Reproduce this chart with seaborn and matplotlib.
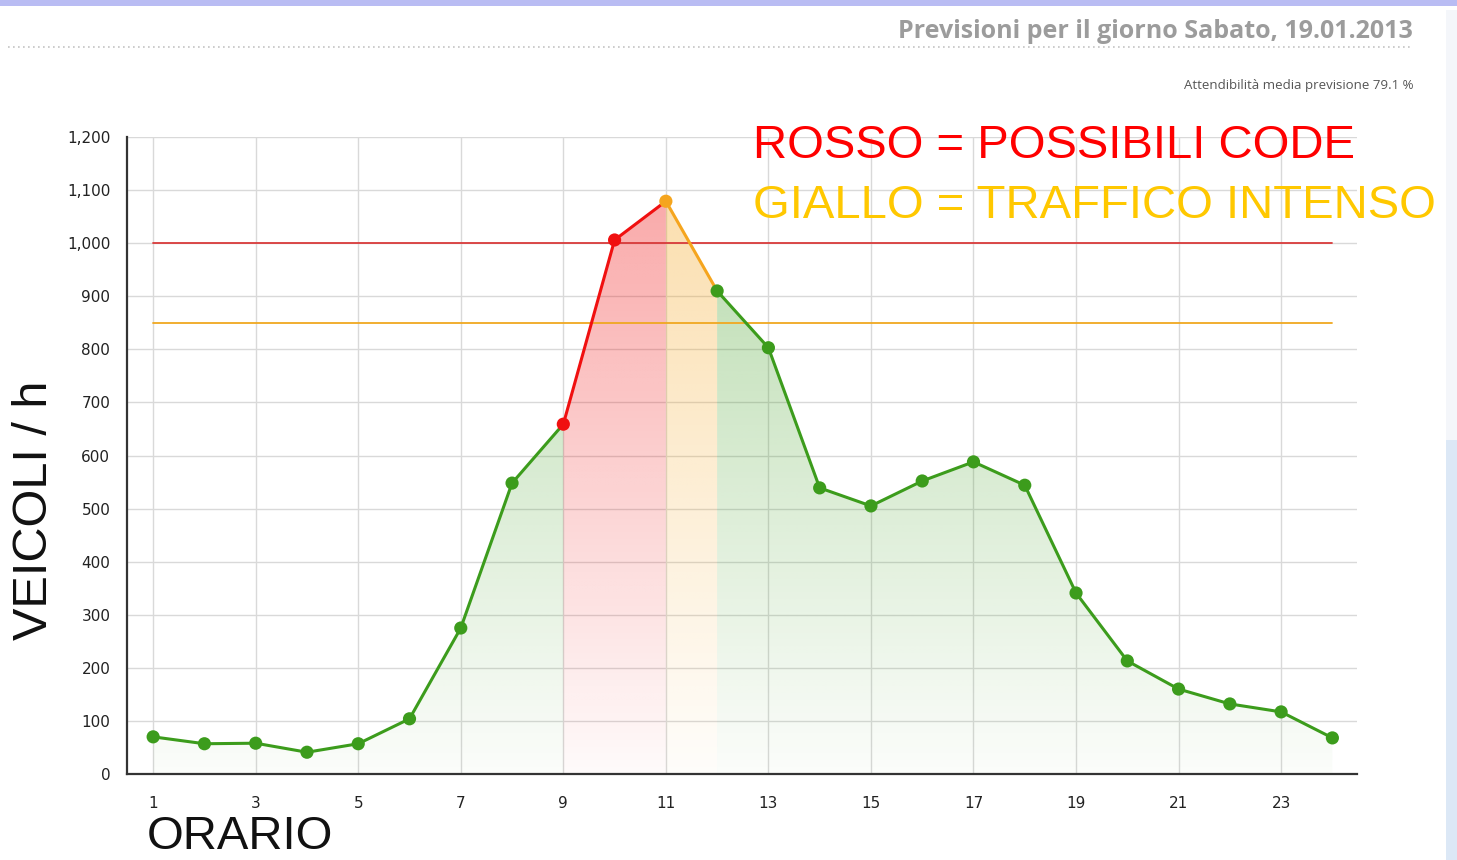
import numpy as np
import pandas as pd
import matplotlib
matplotlib.use('Agg')
import matplotlib.pyplot as plt
import seaborn as sns
from matplotlib.ticker import FuncFormatter, FixedLocator
from matplotlib.patches import Rectangle
from matplotlib.lines import Line2D
from matplotlib.colors import to_rgb

# ---------------- data ----------------
ore = list(range(1, 25))
veicoli = [70, 57, 58, 41, 57, 104, 275, 548, 659, 1006, 1079, 910,
           803, 539, 505, 552, 588, 544, 341, 213, 160, 132, 117, 68]
livello = ['verde'] * 8 + ['rosso', 'rosso', 'giallo'] + ['verde'] * 13
soglia_rossa = 1000
soglia_gialla = 850
xtick_vals = list(range(1, 24, 2))
ytick_vals = list(range(0, 1201, 100))

titolo = "Previsioni per il giorno Sabato, 19.01.2013"
sottotitolo = "Attendibilità media previsione 79.1 %"
nota_rossa = "ROSSO = POSSIBILI CODE"
nota_gialla = "GIALLO = TRAFFICO INTENSO"
label_y = "VEICOLI / h"
label_x = "ORARIO"

# ---------------- style ----------------
sns.set_theme(style='whitegrid')
plt.rcParams['font.family'] = ['DejaVu Sans']

palette = {'verde': '#3c9c1c', 'rosso': '#f01010', 'giallo': '#f5a51e'}

W, H = 1457, 860
fig = plt.figure(figsize=(W / 100, H / 100), dpi=100)
fig.patch.set_facecolor('white')

def fx(px):
    return px / W

def fy(py):
    return 1 - py / H

ax = fig.add_axes([fx(127), fy(774), fx(1357) - fx(127), fy(137) - fy(774)])
ax.set_facecolor('white')

df = pd.DataFrame({'ora': ore, 'veicoli': veicoli, 'livello': livello})

# ---------------- gradient fills (one polygon per run of equal colour) ----------------
runs = []
start = 0
for i in range(1, len(ore) - 1):
    if livello[i] != livello[start]:
        runs.append((start, i))
        start = i
runs.append((start, len(ore) - 1))

ylo, yhi = 0, 1200
for a, b in runs:
    seg = df.iloc[a:b + 1]
    col = to_rgb(palette[livello[a]])
    poly = ax.fill_between(seg['ora'], seg['veicoli'], 0, color='none', lw=0)
    n = 256
    yy = np.linspace(ylo, yhi, n)
    alpha = np.clip(0.02 + 0.34 * (yy / 1100.0), 0, 0.42)
    img = np.zeros((n, 1, 4))
    img[:, 0, :3] = col
    img[:, 0, 3] = alpha
    im = ax.imshow(img, extent=[seg['ora'].iloc[0], seg['ora'].iloc[-1], ylo, yhi],
                   origin='lower', aspect='auto', zorder=1, interpolation='bilinear')
    im.set_clip_path(poly.get_paths()[0], transform=ax.transData)

# ---------------- threshold lines ----------------
ax.plot([ore[0], ore[-1]], [soglia_rossa, soglia_rossa], color='#d83a3a', lw=1.3, zorder=2)
ax.plot([ore[0], ore[-1]], [soglia_gialla, soglia_gialla], color='#f0a820', lw=1.3, zorder=2)

# ---------------- lines ----------------
for a, b in runs:
    seg = df.iloc[a:b + 1]
    sns.lineplot(data=seg, x='ora', y='veicoli', color=palette[livello[a]],
                 lw=2.2, ax=ax, legend=False, zorder=3)

sns.scatterplot(data=df, x='ora', y='veicoli', hue='livello', palette=palette,
                s=90, edgecolor='none', legend=False, ax=ax, zorder=5)

# ---------------- axes ----------------
ax.set_xlim(0.49, 24.48)
ax.set_ylim(0, 1200)
ax.xaxis.set_major_locator(FixedLocator(xtick_vals))
ax.yaxis.set_major_locator(FixedLocator(ytick_vals))
ax.yaxis.set_major_formatter(FuncFormatter(lambda v, p: f"{int(v):,}"))
ax.set_xlabel('')
ax.set_ylabel('')
ax.grid(True, color='#d9d9d9', lw=1)
for s in ['top', 'right']:
    ax.spines[s].set_visible(False)
for s in ['left', 'bottom']:
    ax.spines[s].set_visible(True)
    ax.spines[s].set_color('#333333')
    ax.spines[s].set_linewidth(1.6)
ax.tick_params(axis='both', which='major', direction='out', length=6, width=1.4,
               color='#333333', labelsize=11, labelcolor='#222222')
ax.tick_params(axis='y', pad=6)
ax.tick_params(axis='x', pad=10)

# ---------------- texts ----------------
fig.text(fx(1413), fy(32), titolo, ha='right', va='center', fontsize=18,
         fontweight='bold', color='#9c9c9c', family=['Open Sans', 'DejaVu Sans'])
fig.text(fx(1413), fy(86), sottotitolo, ha='right', va='center', fontsize=9.5,
         color='#555555', family=['Open Sans', 'DejaVu Sans'])
fig.text(fx(753), fy(146), nota_rossa, ha='left', va='center', fontsize=34,
         color='#ff0000', family=['Liberation Sans', 'DejaVu Sans'])
fig.text(fx(753), fy(206), nota_gialla, ha='left', va='center', fontsize=34,
         color='#ffc800', family=['Liberation Sans', 'DejaVu Sans'])
fig.text(fx(35), fy(510), label_y, ha='center', va='center', rotation=90,
         fontsize=35, color='#111111', family=['Liberation Sans', 'DejaVu Sans'])
fig.text(fx(147), fy(837), label_x, ha='left', va='center', fontsize=34,
         color='#111111', family=['Liberation Sans', 'DejaVu Sans'])

# ---------------- page decorations ----------------
fig.patches.append(Rectangle((0, fy(6)), 1, 6 / H, transform=fig.transFigure,
                             facecolor='#b9bcf3', edgecolor='none'))
fig.lines.append(Line2D([fx(8), fx(1413)], [fy(47), fy(47)], transform=fig.transFigure,
                        color='#c4c4c4', lw=1.2, linestyle=(0, (1, 2))))
fig.patches.append(Rectangle((fx(1446), 0), 11 / W, fy(440), transform=fig.transFigure,
                             facecolor='#dce8f6', edgecolor='none'))
fig.patches.append(Rectangle((fx(1446), fy(440)), 11 / W, 430 / H, transform=fig.transFigure,
                             facecolor='#f4f6fa', edgecolor='none'))

fig.savefig('out.png', dpi=100)
